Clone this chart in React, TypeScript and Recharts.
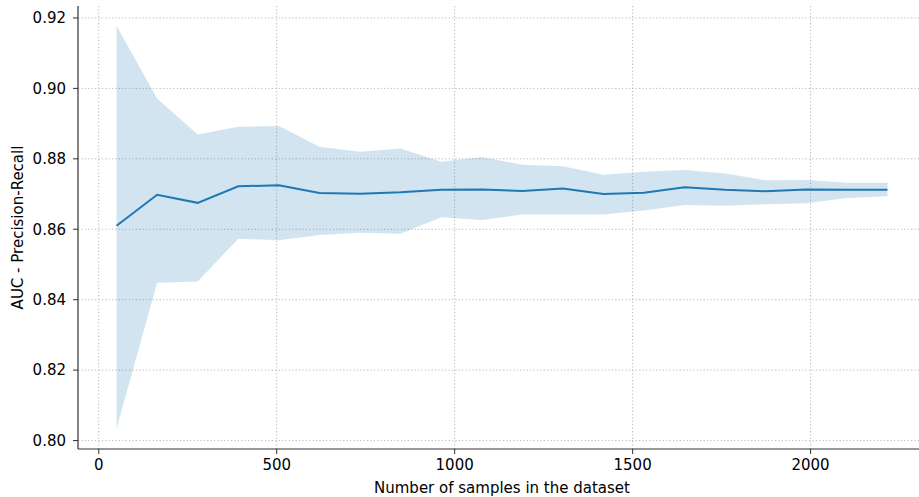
import {
  ComposedChart,
  Area,
  Line,
  XAxis,
  YAxis,
  CartesianGrid,
  Label,
} from "recharts";

// sample sizes on the x axis
const sampleSizes = [
  50, 164, 278, 392, 506, 620, 734, 848, 962, 1076, 1190, 1304, 1418, 1532,
  1646, 1760, 1874, 1988, 2102, 2216,
];

// mean AUC and the band around it
const meanAuc = [
  0.861, 0.8698, 0.8675, 0.8722, 0.8725, 0.8703, 0.8701, 0.8705, 0.8712,
  0.8713, 0.8709, 0.8716, 0.87, 0.8704, 0.8719, 0.8712, 0.8708, 0.8713,
  0.8712, 0.8712,
];
const upperAuc = [
  0.9178, 0.8971, 0.8869, 0.8891, 0.8893, 0.8834, 0.882, 0.8829, 0.8792,
  0.8805, 0.8783, 0.8779, 0.8755, 0.8763, 0.8768, 0.8758, 0.8739, 0.874,
  0.8732, 0.8732,
];
const lowerAuc = [
  0.8034, 0.8448, 0.8452, 0.8573, 0.8569, 0.8584, 0.859, 0.8587, 0.8634,
  0.8626, 0.8642, 0.8642, 0.8642, 0.8653, 0.8669, 0.8667, 0.8671, 0.8674,
  0.8689, 0.8694,
];

const xTicks = [0, 500, 1000, 1500, 2000];
const yTicks = [0.8, 0.82, 0.84, 0.86, 0.88, 0.9, 0.92];

const data = sampleSizes.map((n, i) => ({
  n,
  mean: meanAuc[i],
  band: [lowerAuc[i], upperAuc[i]],
}));

const FONT = "DejaVu Sans, sans-serif";
const BLUE = "#1f77b4";
const SPINE = "#333333";
const FS = 15;

export default function App() {
  const tickStyle = { fontFamily: FONT, fontSize: FS, fill: "#000" };

  return (
    <div
      style={{
        position: "fixed",
        left: 0,
        top: 0,
        width: 919,
        height: 497,
        overflow: "hidden",
        background: "#fff",
      }}
    >
      <ComposedChart
        width={940}
        height={497}
        data={data}
        margin={{ top: 6, right: 14, bottom: 0, left: 0 }}
      >
        <CartesianGrid
          stroke="#b0b0b0"
          strokeDasharray="1.2 2.2"
          strokeWidth={0.9}
          verticalValues={xTicks}
          horizontalValues={yTicks}
        />
        {/* top spine */}
        <XAxis
          xAxisId="top"
          orientation="top"
          type="number"
          dataKey="n"
          domain={[-58.3, 2324.3]}
          height={0}
          tick={false}
          tickLine={false}
          axisLine={{ stroke: SPINE, strokeWidth: 1.2 }}
        />
        <XAxis
          type="number"
          dataKey="n"
          domain={[-58.3, 2324.3]}
          allowDataOverflow
          ticks={xTicks}
          height={48}
          tickSize={5}
          tickMargin={5}
          tick={tickStyle}
          tickLine={{ stroke: SPINE }}
          axisLine={{ stroke: SPINE, strokeWidth: 1.2 }}
        >
          <Label
            value="Number of samples in the dataset"
            position="insideBottom"
            offset={4}
            style={{ fontFamily: FONT, fontSize: FS, fill: "#000" }}
          />
        </XAxis>
        <YAxis
          type="number"
          domain={[0.7976, 0.9234]}
          allowDataOverflow
          ticks={yTicks}
          width={78}
          tickSize={5}
          tickMargin={7}
          tick={tickStyle}
          tickLine={{ stroke: SPINE }}
          axisLine={{ stroke: SPINE, strokeWidth: 1.2 }}
          tickFormatter={(v: number) => v.toFixed(2)}
        >
          <Label
            content={({ viewBox }: any) => (
              <text
                x={18}
                y={viewBox.y + viewBox.height / 2}
                transform={`rotate(-90, 18, ${viewBox.y + viewBox.height / 2})`}
                textAnchor="middle"
                dominantBaseline="central"
                fontFamily={FONT}
                fontSize={FS}
                fill="#000"
              >
                AUC - Precision-Recall
              </text>
            )}
          />
        </YAxis>
        <Area
          dataKey="band"
          stroke="none"
          fill={BLUE}
          fillOpacity={0.2}
          isAnimationActive={false}
          activeDot={false}
        />
        <Line
          dataKey="mean"
          stroke={BLUE}
          strokeWidth={2}
          dot={false}
          isAnimationActive={false}
        />
      </ComposedChart>
    </div>
  );
}
